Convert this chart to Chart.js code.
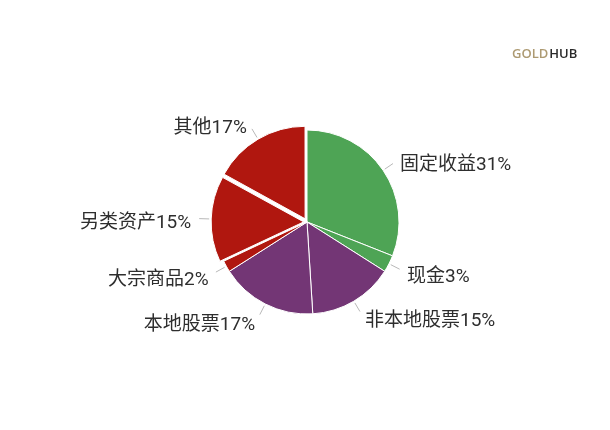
<!DOCTYPE html>
<html>
<head>
<meta charset="utf-8">
<script src="https://cdn.jsdelivr.net/npm/chart.js@4/dist/chart.umd.min.js"></script>
<style>
  html, body { margin: 0; padding: 0; background: #ffffff; }
  #wrap { position: relative; width: 610px; height: 430px; }
</style>
</head>
<body>
<div id="wrap"><canvas id="c" width="610" height="430"></canvas></div>
<script>
const categories = ['固定收益', '现金', '非本地股票', '本地股票', '大宗商品', '另类资产', '其他'];
const shares = [31, 3, 15, 17, 2, 15, 17];
const sliceColors = ['#4ea455', '#4ea455', '#733675', '#733675', '#b0170f', '#b0170f', '#b0170f'];
const sliceOffsets = [0, 0, 0, 0, 0, 13, 15];
const logoParts = ['GOLD', 'HUB'];

const FONT = 'Roboto, "Noto Sans CJK SC", "Noto Sans", sans-serif';

// actual translation Chart.js applies to an arc with a given offset
function arcShift(offset, circumference) {
  const fix = 1 - Math.sin(Math.min(Math.PI, circumference));
  return offset / 4 * (1 + fix);
}

const labelPlugin = {
  id: 'outLabels',
  afterDatasetsDraw(chart) {
    const ctx = chart.ctx;
    const meta = chart.getDatasetMeta(0);
    ctx.save();
    meta.data.forEach((arc, i) => {
      const p = arc.getProps(['x', 'y', 'startAngle', 'endAngle', 'outerRadius', 'circumference'], true);
      const mid = (p.startAngle + p.endAngle) / 2;
      const shift = arcShift(sliceOffsets[i] || 0, p.circumference);
      const cx = Math.cos(mid), sy = Math.sin(mid);
      const r = p.outerRadius + shift;
      ctx.strokeStyle = '#b8b8b8';
      ctx.lineWidth = 1;
      ctx.beginPath();
      ctx.moveTo(p.x + cx * (r + 2), p.y + sy * (r + 2));
      ctx.lineTo(p.x + cx * (r + 12), p.y + sy * (r + 12));
      ctx.stroke();
      const tx = p.x + cx * (r + 18) + (cx >= 0 ? 2 : -2);
      const ty = p.y + sy * (r + 18) + 5;
      ctx.font = '19px ' + FONT;
      ctx.fillStyle = '#2e2e2e';
      ctx.textBaseline = 'middle';
      ctx.textAlign = cx >= 0 ? 'left' : 'right';
      ctx.fillText(categories[i] + shares[i] + '%', tx, ty);
    });
    // logo
    ctx.font = '600 13px "Open Sans", ' + FONT;
    ctx.textAlign = 'left';
    ctx.textBaseline = 'middle';
    const w1 = ctx.measureText(logoParts[0]).width;
    ctx.fillStyle = '#ad9a72';
    ctx.fillText(logoParts[0], 512, 54);
    ctx.fillStyle = '#2a2a2a';
    ctx.fillText(logoParts[1], 512 + w1 + 1, 54);
    ctx.restore();
  }
};

new Chart(document.getElementById('c'), {
  type: 'pie',
  data: {
    labels: categories,
    datasets: [{
      data: shares,
      backgroundColor: sliceColors,
      borderColor: '#ffffff',
      borderWidth: 1,
      offset: sliceOffsets,
      radius: 92
    }]
  },
  options: {
    responsive: false,
    animation: false,
    layout: { padding: { left: 4, right: 0, top: 14, bottom: 0 } },
    plugins: {
      legend: { display: false },
      tooltip: { enabled: false }
    }
  },
  plugins: [labelPlugin]
});
</script>
</body>
</html>
